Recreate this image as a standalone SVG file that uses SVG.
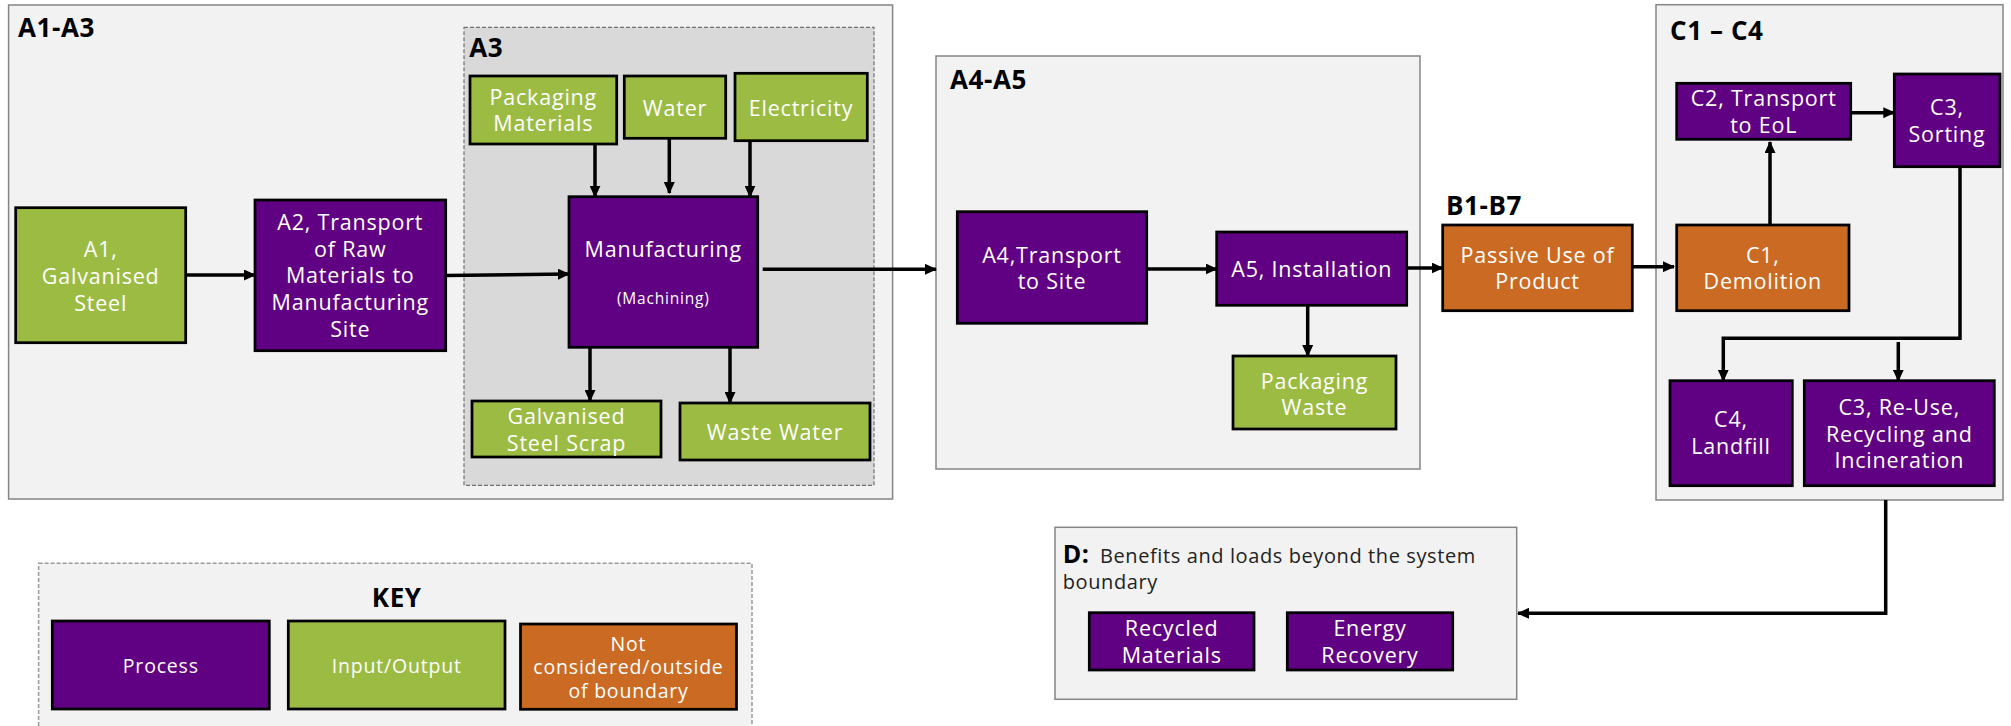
<svg xmlns="http://www.w3.org/2000/svg" width="2011" height="726" viewBox="0 0 2011 726">
<defs>
<style>
.panel{fill:#f2f2f2;stroke:#858585;stroke-width:1.5}
.dash{fill:#d9d9d9;stroke:#707070;stroke-width:1.2;stroke-dasharray:4 2}
.keyp{fill:#f2f2f2;stroke:#9a9a9a;stroke-width:1.5;stroke-dasharray:4 2}
.proc{fill:#600082;stroke:#000;stroke-width:2.75}
.io{fill:#9bbb43;stroke:#000;stroke-width:2.75}
.ext{fill:#cb6a22;stroke:#000;stroke-width:2.75}
.t{font-family:"Open Sans","Liberation Sans",sans-serif;font-size:21.5px;fill:#fff;text-anchor:middle;letter-spacing:0.8px}
.s{font-size:15.5px}
.k{font-size:19.5px}
.h{font-family:"Open Sans","Liberation Sans",sans-serif;font-weight:700;font-size:26px;fill:#000;letter-spacing:0.6px}
.d{font-family:"Open Sans","Liberation Sans",sans-serif;font-size:20px;fill:#222;letter-spacing:0.6px}
.c{fill:none;stroke:#000;stroke-width:3.5;marker-end:url(#ah)}
</style>
<marker id="ah" markerUnits="userSpaceOnUse" viewBox="0 0 12 11" markerWidth="12" markerHeight="11" refX="11" refY="5.5" orient="auto">
<path d="M0,0 L12,5.5 L0,11 z" fill="#000"/>
</marker>
</defs>
<rect width="2011" height="726" fill="#fff"/>

<g id="panel-a1a3">
<rect class="panel" x="8.6" y="5" width="884" height="494"/>
<text class="h" x="18" y="36.7">A1-A3</text>
</g>
<g id="panel-a3">
<rect class="dash" x="464" y="27.3" width="410" height="458"/>
<text class="h" x="469.3" y="56.7">A3</text>
</g>
<g id="panel-a4a5">
<rect class="panel" x="936" y="56" width="484" height="413"/>
<text class="h" x="950" y="89.3">A4-A5</text>
</g>
<g id="panel-b1b7">
<text class="h" x="1446" y="215">B1-B7</text>
</g>
<g id="panel-c1c4">
<rect class="panel" x="1656" y="4.7" width="347" height="495.3"/>
<text class="h" x="1670" y="40">C1 – C4</text>
</g>
<g id="panel-d">
<rect class="panel" x="1055" y="527.3" width="461.7" height="172"/>
<text class="d" x="1062.7" y="562.7"><tspan font-weight="700" font-size="25px" fill="#000">D:</tspan></text>
<text class="d" x="1100" y="562.7">Benefits and loads beyond the system</text>
<text class="d" x="1062.7" y="589">boundary</text>
</g>
<g id="panel-key">
<rect class="keyp" x="38.6" y="563.3" width="713.4" height="190"/>
<text class="h" x="396.7" y="606.7" text-anchor="middle" font-size="33px">KEY</text>
</g>

<g id="connectors">
<path class="c" d="M185.7,275 H255"/>
<path class="c" d="M445.7,275.5 L569,274"/>
<path class="c" d="M595,144 V196.7"/>
<path class="c" d="M669.3,138.3 V193"/>
<path class="c" d="M750,141 V196.7"/>
<path class="c" d="M590,347.3 V401"/>
<path class="c" d="M730,347.3 V403"/>
<path class="c" d="M762.7,269.3 H936"/>
<path class="c" d="M1146.7,269 H1216.7"/>
<path class="c" d="M1406.7,268 H1442.7"/>
<path class="c" d="M1307.7,305.3 V356"/>
<path class="c" d="M1632.3,266.7 H1674"/>
<path class="c" d="M1770,225 V142"/>
<path class="c" d="M1850.7,112.7 H1894.3"/>
<path class="c" d="M1960,166.7 V338.3 H1723.3 V380.7"/>
<path class="c" d="M1898.3,342 V380.7"/>
<path class="c" d="M1885.7,500 V613.3 H1518"/>
</g>

<g id="a1">
<rect class="io" x="15.7" y="207.7" width="170" height="135"/>
<text class="t" x="100.7" y="257.3">A1,</text>
<text class="t" x="100.7" y="284">Galvanised</text>
<text class="t" x="100.7" y="310.7">Steel</text>
</g>
<g id="a2">
<rect class="proc" x="255" y="200" width="190.7" height="150.7"/>
<text class="t" x="350.3" y="230">A2, Transport</text>
<text class="t" x="350.3" y="256.7">of Raw</text>
<text class="t" x="350.3" y="283.3">Materials to</text>
<text class="t" x="350.3" y="310">Manufacturing</text>
<text class="t" x="350.3" y="336.7">Site</text>
</g>
<g id="manufacturing">
<rect class="proc" x="569" y="196.7" width="188.7" height="150.6"/>
<text class="t" x="663.3" y="257.3">Manufacturing</text>
<text class="t s" x="663.3" y="304">(Machining)</text>
</g>
<g id="packaging-materials">
<rect class="io" x="470" y="76" width="146.7" height="68"/>
<text class="t" x="543.3" y="105">Packaging</text>
<text class="t" x="543.3" y="131">Materials</text>
</g>
<g id="water">
<rect class="io" x="624.3" y="76" width="101.4" height="62.3"/>
<text class="t" x="675" y="116">Water</text>
</g>
<g id="electricity">
<rect class="io" x="735" y="73.3" width="132.3" height="67.4"/>
<text class="t" x="801" y="116">Electricity</text>
</g>
<g id="steel-scrap">
<rect class="io" x="472" y="401" width="189" height="56"/>
<text class="t" x="566.5" y="424">Galvanised</text>
<text class="t" x="566.5" y="450.7">Steel Scrap</text>
</g>
<g id="waste-water">
<rect class="io" x="680" y="403" width="190" height="57"/>
<text class="t" x="775" y="440">Waste Water</text>
</g>
<g id="a4">
<rect class="proc" x="957.3" y="211.7" width="189.4" height="111.6"/>
<text class="t" x="1052" y="262.7">A4,Transport</text>
<text class="t" x="1052" y="289.3">to Site</text>
</g>
<g id="a5">
<rect class="proc" x="1216.7" y="232" width="190" height="73.3"/>
<text class="t" x="1311.7" y="277.3">A5, Installation</text>
</g>
<g id="packaging-waste">
<rect class="io" x="1233" y="356" width="163" height="73"/>
<text class="t" x="1314.5" y="388.5">Packaging</text>
<text class="t" x="1314.5" y="415">Waste</text>
</g>
<g id="passive-use">
<rect class="ext" x="1442.7" y="225" width="189.6" height="85.7"/>
<text class="t" x="1537.5" y="262.7">Passive Use of</text>
<text class="t" x="1537.5" y="289.3">Product</text>
</g>
<g id="c1">
<rect class="ext" x="1676.7" y="225" width="172.3" height="85.7"/>
<text class="t" x="1762.8" y="262.7">C1,</text>
<text class="t" x="1762.8" y="289.3">Demolition</text>
</g>
<g id="c2">
<rect class="proc" x="1676.7" y="83.3" width="174" height="56"/>
<text class="t" x="1763.7" y="106">C2, Transport</text>
<text class="t" x="1763.7" y="132.7">to EoL</text>
</g>
<g id="c3-sorting">
<rect class="proc" x="1894.3" y="74" width="105.7" height="92.7"/>
<text class="t" x="1947" y="115">C3,</text>
<text class="t" x="1947" y="141.7">Sorting</text>
</g>
<g id="c4">
<rect class="proc" x="1670" y="380.7" width="122.3" height="105"/>
<text class="t" x="1731" y="427.3">C4,</text>
<text class="t" x="1731" y="454">Landfill</text>
</g>
<g id="c3-reuse">
<rect class="proc" x="1804.3" y="380.7" width="190" height="105"/>
<text class="t" x="1899.3" y="415">C3, Re-Use,</text>
<text class="t" x="1899.3" y="441.7">Recycling and</text>
<text class="t" x="1899.3" y="468.3">Incineration</text>
</g>
<g id="recycled-materials">
<rect class="proc" x="1089.3" y="612.7" width="164.7" height="57.3"/>
<text class="t" x="1171.7" y="636">Recycled</text>
<text class="t" x="1171.7" y="662.7">Materials</text>
</g>
<g id="energy-recovery">
<rect class="proc" x="1287.3" y="612.7" width="165.4" height="57.3"/>
<text class="t" x="1370" y="636">Energy</text>
<text class="t" x="1370" y="662.7">Recovery</text>
</g>
<g id="key-process">
<rect class="proc" x="52.3" y="621" width="217" height="88"/>
<text class="t k" x="160.8" y="672.7">Process</text>
</g>
<g id="key-io">
<rect class="io" x="288.3" y="621" width="216.7" height="88"/>
<text class="t k" x="396.7" y="672.7">Input/Output</text>
</g>
<g id="key-ext">
<rect class="ext" x="520.5" y="624" width="216" height="85.3"/>
<text class="t k" x="628.5" y="651">Not</text>
<text class="t k" x="628.5" y="674.3">considered/outside</text>
<text class="t k" x="628.5" y="697.7">of boundary</text>
</g>
</svg>
